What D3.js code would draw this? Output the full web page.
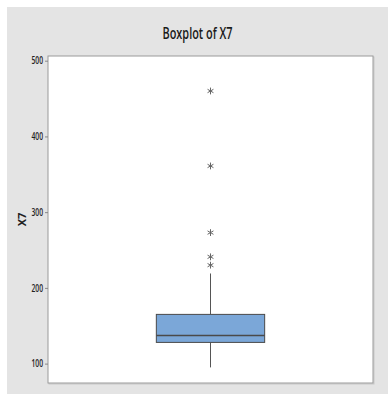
<!DOCTYPE html>
<html>
<head>
<meta charset="utf-8">
<script src="https://cdn.jsdelivr.net/npm/d3@7"></script>
<style>
  html, body { margin: 0; padding: 0; background: #ffffff; }
  svg { display: block; }
  .tick text { font-family: "Open Sans", sans-serif; font-size: 10px; font-weight: 600; fill: #222; }
</style>
</head>
<body>
<div id="chart"></div>
<script>
// Variable and summary statistics for the boxplot
const categories = ["X7"];
const boxStats = [{ q1: 128, median: 137, q3: 165, whiskerLow: 95, whiskerHigh: 219 }];
const outliers = [460, 361, 273, 241, 230];
const yTicks = [100, 200, 300, 400, 500];

const width = 388, height = 394;
const frame = { left: 7, top: 7, right: 388, bottom: 394 };
const plot = { left: 48, top: 56, right: 373, bottom: 383 };

const svg = d3.select("#chart").append("svg")
  .attr("width", width).attr("height", height);

// Graph region background
svg.append("rect")
  .attr("x", frame.left).attr("y", frame.top)
  .attr("width", frame.right - frame.left).attr("height", frame.bottom - frame.top)
  .attr("fill", "#e4e4e4");

// Data region
svg.append("rect")
  .attr("x", plot.left + 1).attr("y", plot.top + 1)
  .attr("width", plot.right - plot.left).attr("height", plot.bottom - plot.top)
  .attr("fill", "none").attr("stroke", "#c8c8c8");
svg.append("rect")
  .attr("x", plot.left).attr("y", plot.top)
  .attr("width", plot.right - plot.left).attr("height", plot.bottom - plot.top)
  .attr("fill", "#ffffff").attr("stroke", "#9a9a9a");

const y = d3.scaleLinear().domain([74.4, 506.2]).range([plot.bottom, plot.top]);
const x = d3.scaleBand().domain(categories).range([plot.left, plot.right]).paddingInner(0).paddingOuter(1);

// Y axis
const yAxis = svg.append("g")
  .attr("transform", `translate(${plot.left},0)`)
  .call(d3.axisLeft(y).tickValues(yTicks).tickSize(3).tickPadding(2));
yAxis.select(".domain").remove();
yAxis.selectAll(".tick line").attr("stroke", "#888");
yAxis.selectAll(".tick text")
  .attr("textLength", 11.5)
  .attr("lengthAdjust", "spacingAndGlyphs");

// Y axis title
svg.append("text")
  .attr("transform", `translate(26,${(plot.top + plot.bottom) / 2}) rotate(-90)`)
  .attr("text-anchor", "middle")
  .attr("font-family", "'Open Sans', sans-serif")
  .attr("font-weight", "bold")
  .attr("font-size", 11)
  .attr("fill", "#222")
  .text("X7");

// Chart title
svg.append("text")
  .attr("x", (frame.left + frame.right) / 2)
  .attr("y", 39)
  .attr("text-anchor", "middle")
  .attr("font-family", "'Open Sans', sans-serif")
  .attr("font-size", 16)
  .attr("font-weight", 600)
  .attr("textLength", 70)
  .attr("lengthAdjust", "spacingAndGlyphs")
  .attr("fill", "#1a1a1a")
  .text("Boxplot of X7");

// Boxes, whiskers and medians
const boxW = x.bandwidth();
const g = svg.append("g");
boxStats.forEach((s, i) => {
  const cx = x(categories[i]) + boxW / 2;
  g.append("line")
    .attr("x1", cx).attr("x2", cx)
    .attr("y1", y(s.q3)).attr("y2", y(s.whiskerHigh))
    .attr("stroke", "#555").attr("stroke-width", 1);
  g.append("line")
    .attr("x1", cx).attr("x2", cx)
    .attr("y1", y(s.q1)).attr("y2", y(s.whiskerLow))
    .attr("stroke", "#555").attr("stroke-width", 1);
  g.append("rect")
    .attr("x", x(categories[i])).attr("y", y(s.q3))
    .attr("width", boxW).attr("height", y(s.q1) - y(s.q3))
    .attr("fill", "#7ba7d8").attr("stroke", "#4a4a4a").attr("stroke-width", 1);
  g.append("line")
    .attr("x1", x(categories[i])).attr("x2", x(categories[i]) + boxW)
    .attr("y1", y(s.median)).attr("y2", y(s.median))
    .attr("stroke", "#4a4a4a").attr("stroke-width", 1.5);

  // Outliers
  g.selectAll(".outlier").data(outliers).enter().append("path")
    .attr("class", "outlier")
    .attr("transform", d => `translate(${cx},${y(d)})`)
    .attr("d", d3.symbol().type(d3.symbolAsterisk).size(32))
    .attr("fill", "none").attr("stroke", "#666").attr("stroke-width", 1);
});
</script>
</body>
</html>
